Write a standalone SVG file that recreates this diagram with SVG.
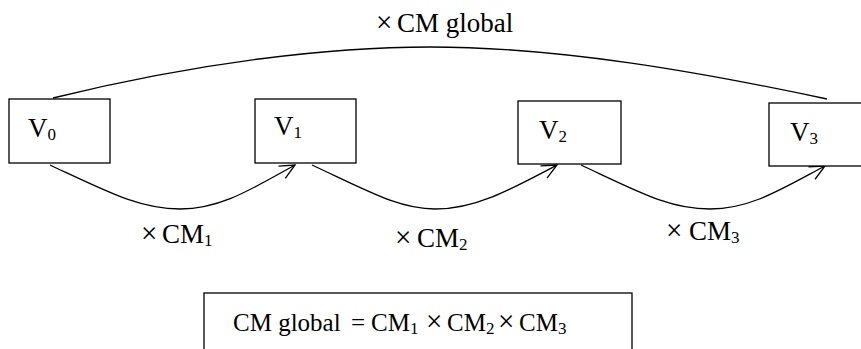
<svg xmlns="http://www.w3.org/2000/svg" width="861" height="349" viewBox="0 0 861 349">
<style>
.box{fill:#fff;stroke:#000;stroke-width:1.3}
.t{font-family:"Liberation Serif","Times New Roman",serif;font-size:27px;fill:#000}
.f{font-size:25px}
.s{font-size:17px}
.x{font-size:29px}
.c{fill:none;stroke:#000;stroke-width:1.3}
</style>
<defs>
<marker id="arr" markerWidth="20" markerHeight="20" refX="17" refY="8" orient="auto" markerUnits="userSpaceOnUse">
<path d="M2,1 L17,8 L2,15" fill="none" stroke="#000" stroke-width="1.3"/>
</marker>
</defs>
<rect width="861" height="349" fill="#fff"/>
<g id="connectors">
<path class="c" d="M53,98 C200,62 330,47 430,47 C560,47 700,72 827,99"/>
<path class="c" d="M50,165 C110,193 140,209 180,209 C220,209 250,190 295,165" marker-end="url(#arr)"/>
<path class="c" d="M312,165 C372,193 400,209 435,209 C475,209 510,190 557,165" marker-end="url(#arr)"/>
<path class="c" d="M581,165 C641,193 670,209 710,209 C750,209 780,190 825,166" marker-end="url(#arr)"/>
</g>
<g id="label-global"><text class="t" x="376" y="32"><tspan class="x">×</tspan><tspan x="397">CM global</tspan></text></g>
<g id="V0"><rect class="box" x="9" y="99" width="101" height="64"/><text class="t" x="28" y="137">V<tspan class="s" dy="3">0</tspan></text></g>
<g id="V1"><rect class="box" x="255" y="99" width="101" height="64"/><text class="t" x="274" y="135">V<tspan class="s" dy="3">1</tspan></text></g>
<g id="V2"><rect class="box" x="518" y="101" width="103" height="63"/><text class="t" x="539" y="139">V<tspan class="s" dy="3">2</tspan></text></g>
<g id="V3"><rect class="box" x="769" y="103" width="100" height="63"/><text class="t" x="790" y="141">V<tspan class="s" dy="3">3</tspan></text></g>
<g id="lab1"><text class="t" x="141" y="243"><tspan class="x">×</tspan><tspan x="162">CM</tspan><tspan class="s" dy="3">1</tspan></text></g>
<g id="lab2"><text class="t" x="395" y="247"><tspan class="x">×</tspan><tspan x="417">CM</tspan><tspan class="s" dy="3">2</tspan></text></g>
<g id="lab3"><text class="t" x="666" y="240"><tspan class="x">×</tspan><tspan x="689">CM</tspan><tspan class="s" dy="3">3</tspan></text></g>
<g id="formula"><rect class="box" x="204" y="293" width="428" height="70"/><text class="t f" x="233" y="331">CM global<tspan x="351">=</tspan><tspan x="371">CM</tspan><tspan class="s" dy="3">1</tspan><tspan class="x" x="426" dy="-3">×</tspan><tspan x="447">CM</tspan><tspan class="s" dy="3">2</tspan><tspan class="x" x="498" dy="-3">×</tspan><tspan x="519">CM</tspan><tspan class="s" dy="3">3</tspan></text></g>
</svg>
